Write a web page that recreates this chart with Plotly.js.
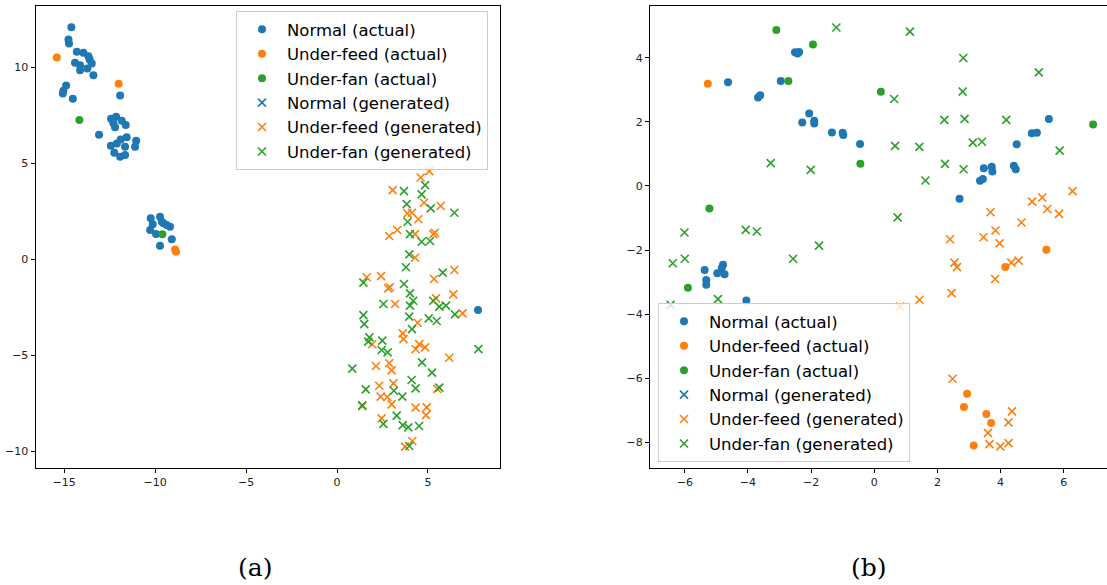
<!DOCTYPE html>
<html>
<head>
<meta charset="utf-8">
<script src="https://cdn.plot.ly/plotly-3.0.1.min.js"></script>
<style>html,body{margin:0;padding:0;background:#fff;}#chart{width:1107px;height:585px;}</style>
</head>
<body>
<div id="chart"></div>
<script>
// ---------- Panel (a) ----------
const normalActualA_x = [-14.6,-14.76,-14.73,-14.3,-13.94,-13.66,-13.6,-14.4,-14.12,-14.12,-13.72,-13.48,-13.39,-14.89,-15.04,-15.07,-14.52,-11.92,-13.08,-12.42,-12.14,-12.29,-12.2,-11.83,-11.61,-12.43,-12.24,-11.92,-11.65,-11.89,-11.56,-11.65,-12.1,-11.04,-11.1,-10.24,-9.73,-10.13,-10.27,-9.95,-9.54,-9.36,-9.18,-9.63,-9.08,-9.73,7.75];
const normalActualA_y = [12.07,11.44,11.23,10.8,10.75,10.57,10.4,10.22,10.1,9.84,9.93,10.19,9.58,9.04,8.77,8.63,8.35,8.52,6.47,7.31,7.41,7.07,6.86,7.2,6.98,5.9,5.54,5.33,5.42,6.23,6.34,5.85,6.02,6.16,5.85,2.12,2.2,1.81,1.51,1.3,1.86,1.77,1.68,1.94,1.03,0.69,-2.66];
const feedActualA_x = [-15.4,-12.0,-8.85,-8.9];
const feedActualA_y = [10.5,9.13,0.38,0.5];
const fanActualA_x = [-14.16,-9.6];
const fanActualA_y = [7.24,1.29];
const normalGenA_x = [null];   // no generated "Normal" points are visible
const normalGenA_y = [null];
const feedGenA_x = [5.07,4.6,3.06,4.78,5.70,3.87,4.12,4.47,3.31,2.87,4.29,5.29,5.38,4.29,1.63,2.42,2.82,2.91,5.33,6.45,3.19,5.44,6.39,6.9,4.43,3.61,3.65,1.94,4.52,4.84,4.32,6.17,2.14,2.87,3.0,2.32,3.1,5.51,2.4,2.76,3.0,1.39,4.32,4.93,4.89,2.45,3.74,4.14];
const feedGenA_y = [4.58,4.25,3.59,2.93,2.76,2.38,2.41,2.07,1.51,1.2,1.3,1.3,1.37,0.07,-0.95,-0.89,-1.53,-1.47,-1.04,-0.57,-2.34,-2.05,-1.84,-2.83,-3.32,-3.87,-4.17,-4.44,-4.43,-4.6,-4.7,-5.14,-5.57,-5.43,-5.8,-6.6,-6.48,-6.77,-7.17,-7.19,-7.57,-7.66,-7.74,-7.73,-8.13,-8.3,-9.77,-9.48];
const fanGenA_x = [4.84,3.68,4.65,3.83,5.15,6.45,3.88,4.01,4.65,5.11,3.97,3.79,5.81,1.45,3.68,4.01,4.19,2.55,4.01,5.29,5.62,5.99,6.48,1.45,1.5,3.97,5.04,5.48,4.12,1.78,1.72,2.49,2.45,2.78,7.77,4.67,0.84,5.22,4.1,4.32,1.58,5.62,3.13,3.59,1.39,3.28,2.55,3.61,3.92,4.51,3.97];
const fanGenA_y = [3.85,3.54,3.37,2.86,2.64,2.41,1.94,1.3,0.9,0.94,0.24,-0.43,-0.71,-1.23,-1.3,-1.79,-2.17,-2.34,-2.43,-2.17,-2.48,-2.43,-2.88,-2.92,-3.39,-3.0,-3.09,-3.23,-3.65,-4.08,-4.3,-4.25,-4.74,-4.86,-4.69,-5.38,-5.71,-5.92,-6.3,-6.74,-6.79,-6.7,-6.86,-7.17,-7.62,-8.16,-8.59,-8.65,-8.77,-8.7,-9.74];

// ---------- Panel (b) ----------
const normalActualB_x = [-4.63,-3.68,-3.61,-2.96,-2.51,-2.38,-2.43,-2.06,-2.28,-1.9,-1.9,-1.34,-1.0,-0.98,-0.45,5.53,4.99,5.15,4.51,3.47,3.72,3.74,4.42,4.48,3.35,3.44,2.7,-5.37,-5.32,-5.32,-4.97,-4.79,-4.83,-4.74,-4.05];
const normalActualB_y = [3.23,2.76,2.83,3.27,4.17,4.18,4.13,2.26,1.98,2.03,1.95,1.67,1.66,1.59,1.31,2.09,1.64,1.66,1.3,0.55,0.6,0.45,0.63,0.52,0.16,0.22,-0.4,-2.62,-2.93,-3.08,-2.72,-2.46,-2.56,-2.75,-3.57];
const feedActualB_x = [-5.27,5.45,4.15,2.94,2.84,3.55,3.7,3.15];
const feedActualB_y = [3.19,-1.99,-2.53,-6.48,-6.89,-7.11,-7.39,-8.09];
const fanActualB_x = [-3.1,-1.94,-2.72,-0.44,0.21,6.93,-5.22,-5.9];
const fanActualB_y = [4.86,4.41,3.27,0.69,2.94,1.92,-0.7,-3.17];
const normalGenB_x = [null];
const normalGenB_y = [null];
const feedGenB_x = [6.28,5.0,5.32,5.48,5.85,3.68,4.66,3.84,3.46,2.4,3.97,2.54,2.62,4.34,4.57,3.83,2.45,1.43,0.82,2.48,4.36,4.25,3.6,3.65,3.99,4.25];
const feedGenB_y = [-0.16,-0.49,-0.36,-0.72,-0.87,-0.82,-1.14,-1.39,-1.6,-1.66,-1.79,-2.39,-2.53,-2.39,-2.33,-2.9,-3.34,-3.55,-3.76,-6.01,-7.03,-7.37,-7.7,-8.05,-8.12,-8.02];
const fanGenB_x = [-1.2,-3.28,-2.01,1.13,2.82,5.21,0.63,2.8,2.22,2.86,4.18,0.66,1.43,3.12,3.41,5.87,2.24,2.83,1.62,0.74,-6.01,-4.07,-3.72,-6.38,-6.0,-2.57,-1.75,-4.95,-6.45];
const fanGenB_y = [4.94,0.71,0.5,4.81,3.99,3.54,2.71,2.94,2.06,2.09,2.06,1.25,1.22,1.35,1.38,1.1,0.69,0.52,0.17,-0.98,-1.45,-1.37,-1.42,-2.41,-2.27,-2.27,-1.86,-3.53,-3.71];

const seriesNames = ['Normal (actual)','Under-feed (actual)','Under-fan (actual)','Normal (generated)','Under-feed (generated)','Under-fan (generated)'];
const panelLabels = ['(a)','(b)'];

const C = ['#1f77b4','#ff7f0e','#2ca02c'];

function dot(x,y,name,col,xa,ya,leg,grp){
  return {type:'scatter',mode:'markers',x:x,y:y,name:name,xaxis:xa,yaxis:ya,legend:leg,legendgroup:grp,
    showlegend:true, marker:{symbol:'circle',size:8,color:col,line:{width:0}},hoverinfo:'skip'};
}
function cross(x,y,name,col,xa,ya,leg,grp){
  return {type:'scatter',mode:'markers',x:x,y:y,name:name,xaxis:xa,yaxis:ya,legend:leg,legendgroup:grp,
    showlegend:true, marker:{symbol:'x-thin',size:8,color:col,line:{width:1.6,color:col}},hoverinfo:'skip'};
}

const data = [
  dot(normalActualA_x,normalActualA_y,seriesNames[0],C[0],'x','y','legend','a0'),
  dot(feedActualA_x,feedActualA_y,seriesNames[1],C[1],'x','y','legend','a1'),
  dot(fanActualA_x,fanActualA_y,seriesNames[2],C[2],'x','y','legend','a2'),
  cross(normalGenA_x,normalGenA_y,seriesNames[3],C[0],'x','y','legend','a3'),
  cross(feedGenA_x,feedGenA_y,seriesNames[4],C[1],'x','y','legend','a4'),
  cross(fanGenA_x,fanGenA_y,seriesNames[5],C[2],'x','y','legend','a5'),
  dot(normalActualB_x,normalActualB_y,seriesNames[0],C[0],'x2','y2','legend2','b0'),
  dot(feedActualB_x,feedActualB_y,seriesNames[1],C[1],'x2','y2','legend2','b1'),
  dot(fanActualB_x,fanActualB_y,seriesNames[2],C[2],'x2','y2','legend2','b2'),
  cross(normalGenB_x,normalGenB_y,seriesNames[3],C[0],'x2','y2','legend2','b3'),
  cross(feedGenB_x,feedGenB_y,seriesNames[4],C[1],'x2','y2','legend2','b4'),
  cross(fanGenB_x,fanGenB_y,seriesNames[5],C[2],'x2','y2','legend2','b5')
];

const tickFont = {family:'DejaVu Sans', size:11, color:'#222'};
const axBase = {showgrid:false, zeroline:false, showline:true, mirror:true, linecolor:'#000', linewidth:1,
  ticks:'outside', ticklen:4, tickwidth:1, tickcolor:'#000', tickfont:tickFont};
const yDom = [0.2005, 0.9897];
const legBase = {bgcolor:'rgba(255,255,255,0.8)', bordercolor:'#cccccc', borderwidth:1,
  font:{family:'DejaVu Sans', size:16.5, color:'#000'}, tracegroupgap:0, itemwidth:40,
  xanchor:'left', yanchor:'top'};

const layout = {
  width:1107, height:585,
  margin:{l:0,r:0,t:0,b:0},
  paper_bgcolor:'#fff', plot_bgcolor:'#fff',
  showlegend:true,
  xaxis: Object.assign({}, axBase, {domain:[0.0321,0.4517], range:[-16.57,8.96], tickvals:[-15,-10,-5,0,5], anchor:'y'}),
  yaxis: Object.assign({}, axBase, {domain:yDom, range:[-10.87,13.18], tickvals:[-10,-5,0,5,10], anchor:'x'}),
  xaxis2: Object.assign({}, axBase, {domain:[0.5872,1.0], range:[-7.1,7.37], tickvals:[-6,-4,-2,0,2,4,6], anchor:'y2'}),
  yaxis2: Object.assign({}, axBase, {domain:yDom, range:[-8.785,5.61], tickvals:[-8,-6,-4,-2,0,2,4], anchor:'x2'}),
  legend: Object.assign({}, legBase, {x:236/1107, y:(585-11)/585}),
  legend2: Object.assign({}, legBase, {x:658/1107, y:(585-303)/585}),
  annotations: [
    {text:panelLabels[0], xref:'paper', yref:'paper', x:255/1107, y:(585-567)/585, showarrow:false,
     xanchor:'center', yanchor:'middle', font:{family:'DejaVu Serif', size:25, color:'#000'}},
    {text:panelLabels[1], xref:'paper', yref:'paper', x:869/1107, y:(585-567)/585, showarrow:false,
     xanchor:'center', yanchor:'middle', font:{family:'DejaVu Serif', size:25, color:'#000'}}
  ]
};

Plotly.newPlot('chart', data, layout, {staticPlot:true, displayModeBar:false});
</script>
</body>
</html>
